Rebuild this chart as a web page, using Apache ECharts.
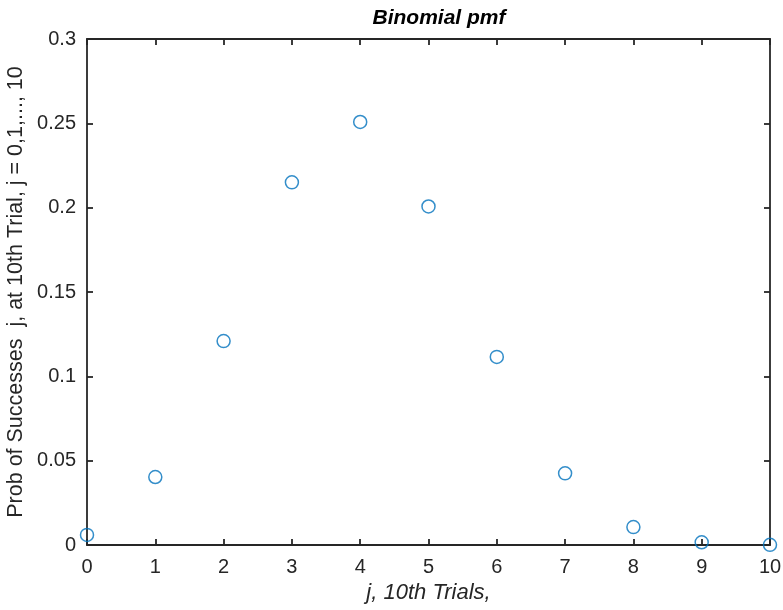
<!DOCTYPE html>
<html>
<head>
<meta charset="utf-8">
<script src="https://cdn.jsdelivr.net/npm/echarts@6/dist/echarts.min.js"></script>
<style>
  html, body { margin: 0; padding: 0; background: #fff; }
  #chart { width: 783px; height: 610px; }
</style>
</head>
<body>
<div id="chart"></div>
<script>
// values
const trials = [0, 1, 2, 3, 4, 5, 6, 7, 8, 9, 10]
const pmf = [0.006, 0.0403, 0.1209, 0.215, 0.2508, 0.2007, 0.1115, 0.0425, 0.0106, 0.0016, 0.0001]
const yTicks = [0, 0.05, 0.1, 0.15, 0.2, 0.25, 0.3]

const font = 'Liberation Sans, Arial, sans-serif'
const axisColor = '#262626'

const chart = echarts.init(document.getElementById('chart'))

const boxAxis = {
  axisLine: { show: true, onZero: false, lineStyle: { color: axisColor, width: 1.8 } },
  axisTick: { show: true, inside: true, length: 6, lineStyle: { color: axisColor, width: 1.8 } },
  splitLine: { show: false }
}

const options = {
  animation: false,
  title: {
    text: 'Binomial pmf',
    left: 434,
    top: 3,
    textAlign: 'center',
    textStyle: { fontFamily: font, fontSize: 21, fontWeight: 'bold', fontStyle: 'italic', color: '#000' }
  },
  grid: { left: 87, top: 39, right: 13, bottom: 65, containLabel: false, outerBoundsMode: 'none' },
  xAxis: [{
    type: 'value',
    min: 0,
    max: 10,
    interval: 1,
    name: 'j, 10th Trials,',
    nameLocation: 'middle',
    nameGap: 34,
    nameTextStyle: { fontFamily: font, fontSize: 22, fontStyle: 'italic', color: axisColor },
    axisLabel: { fontFamily: font, fontSize: 20, color: axisColor, margin: 12 },
    ...boxAxis
  }, {
    type: 'value',
    position: 'top',
    min: 0,
    max: 10,
    interval: 1,
    axisLabel: { show: false },
    ...boxAxis
  }],
  yAxis: [{
    type: 'value',
    min: yTicks[0],
    max: yTicks[yTicks.length - 1],
    interval: 0.05,
    name: 'Prob of Successes  j, at 10th Trial, j = 0,1,..., 10',
    nameLocation: 'middle',
    nameGap: 60,
    nameMoveOverlap: false,
    nameTextStyle: { fontFamily: font, fontSize: 21.5, color: axisColor },
    axisLabel: { fontFamily: font, fontSize: 20, color: axisColor, margin: 11 },
    ...boxAxis
  }, {
    type: 'value',
    position: 'right',
    min: yTicks[0],
    max: yTicks[yTicks.length - 1],
    interval: 0.05,
    axisLabel: { show: false },
    ...boxAxis
  }],
  series: [{
    type: 'scatter',
    symbol: 'circle',
    symbolSize: 13,
    itemStyle: { color: 'rgba(0,0,0,0)', borderColor: '#0072BD', borderWidth: 1.5 },
    clip: false,
    data: trials.map((t, i) => [t, pmf[i]])
  }]
}

chart.setOption(options)
</script>
</body>
</html>
